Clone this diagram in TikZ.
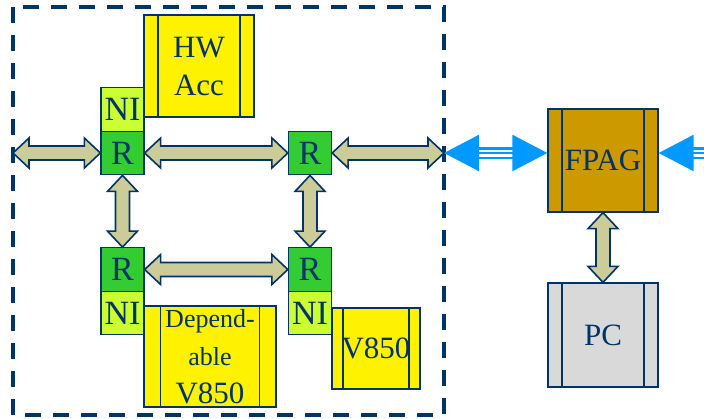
\documentclass[tikz,border=0pt]{standalone}
\usepackage{fontspec}
\setmainfont{Liberation Serif}
\usetikzlibrary{arrows.meta, calc}

\definecolor{navy}{RGB}{0,51,102}
\definecolor{khaki}{RGB}{204,204,153}
\definecolor{routergreen}{RGB}{51,204,51}
\definecolor{nigreen}{RGB}{204,255,51}
\definecolor{fpagbrown}{RGB}{204,153,0}
\definecolor{pcgray}{RGB}{217,217,217}
\definecolor{busblue}{RGB}{0,153,255}

\newcommand{\boxfont}{\fontsize{31}{38}\selectfont}
\newcommand{\fatarrow}[2]{%
  \draw[fat] (#1) -- ($(#1)!16pt!(#2)!15pt!90:(#2)$) -- ($(#1)!16pt!(#2)!7pt!90:(#2)$)
    -- ($(#2)!16pt!(#1)!7pt!-90:(#1)$) -- ($(#2)!16pt!(#1)!15pt!-90:(#1)$)
    -- (#2) -- ($(#2)!16pt!(#1)!15pt!90:(#1)$) -- ($(#2)!16pt!(#1)!7pt!90:(#1)$)
    -- ($(#1)!16pt!(#2)!7pt!-90:(#2)$) -- ($(#1)!16pt!(#2)!15pt!-90:(#2)$) -- cycle;}

\begin{document}
\begin{tikzpicture}[
    x=1pt, y=-1pt,
    proc/.style={draw=navy, line width=1.3pt, text=navy, inner sep=0pt, align=center, font=\boxfont,
      path picture={\draw[navy, line width=1.3pt]
        ([xshift=#1]path picture bounding box.north west) -- ([xshift=#1]path picture bounding box.south west)
        ([xshift=-#1]path picture bounding box.north east) -- ([xshift=-#1]path picture bounding box.south east);}},
    proc/.default=14pt,
    router/.style={draw=navy, line width=1.3pt, fill=routergreen, text=navy, inner sep=0pt,
      minimum width=43pt, minimum height=43.5pt, font=\fontsize{34}{40}\selectfont},
    netif/.style={router, fill=nigreen},
    fat/.style={draw=navy, line width=1.6pt, fill=khaki, line join=miter},
    bus/.style={draw=busblue, line width=2.4pt},
    tip/.style={-{Triangle[length=35pt,width=36pt]}}
]
    \useasboundingbox (0,0) rectangle (704,418);

    \draw[navy, line width=4pt, dash pattern=on 16pt off 12pt] (13,7) rectangle (444,415);

    \node[proc, fill=yellow, minimum width=110pt, minimum height=102pt] (hw) at (199,66) {HW\\Acc};
    \node[netif] (ni1) at (122.5,109.5) {NI};
    \node[router] (r1) at (122.5,153) {R};
    \node[router] (r2) at (310,153) {R};
    \node[router] (r3) at (122.5,269.5) {R};
    \node[netif] (ni3) at (122.5,313) {NI};
    \node[router] (r4) at (310,269.5) {R};
    \node[netif] (ni4) at (310,313) {NI};
    \node[proc=16.5pt, fill=yellow, minimum width=132pt, minimum height=101pt] (dep) at (210,356.5)
      {\fontsize{26}{32}\selectfont Depend-\\\fontsize{26}{32}\selectfont able\\\fontsize{31}{32}\selectfont V850};
    \node[proc=11pt, fill=yellow, minimum width=88pt, minimum height=81pt] (v850) at (376,348.5) {V850};
    \node[proc, fill=fpagbrown, minimum width=110pt, minimum height=103pt] (fpag) at (603,160.5) {FPAG};
    \node[proc, fill=pcgray, minimum width=110pt, minimum height=104pt] (pc) at (603,335) {PC};

    \coordinate (wl) at (13,153);
    \coordinate (wr) at (444,153);
    \coordinate (busr) at (740,153);
    \coordinate (fpagl) at (wr -| fpag.west);
    \coordinate (fpagr) at (wr -| fpag.east);

    \fatarrow{wl}{r1.west}
    \fatarrow{r1.east}{r2.west}
    \fatarrow{r2.east}{wr}
    \fatarrow{r1.south}{r3.north}
    \fatarrow{r2.south}{r4.north}
    \fatarrow{r3.east}{r4.west}
    \fatarrow{fpag.south}{pc.north}

    \draw[bus, {Triangle[length=35pt,width=36pt]}-{Triangle[length=35pt,width=36pt]}] (wr) -- (fpagl);
    \draw[bus, shorten <=33pt, shorten >=33pt, transform canvas={yshift=4.7pt}] (wr) -- (fpagl);
    \draw[bus, shorten <=33pt, shorten >=33pt, transform canvas={yshift=-4.7pt}] (wr) -- (fpagl);
    \draw[bus, tip] (busr) -- (fpagr);
    \draw[bus, shorten >=33pt, transform canvas={yshift=4.7pt}] (busr) -- (fpagr);
    \draw[bus, shorten >=33pt, transform canvas={yshift=-4.7pt}] (busr) -- (fpagr);
\end{tikzpicture}
\end{document}
